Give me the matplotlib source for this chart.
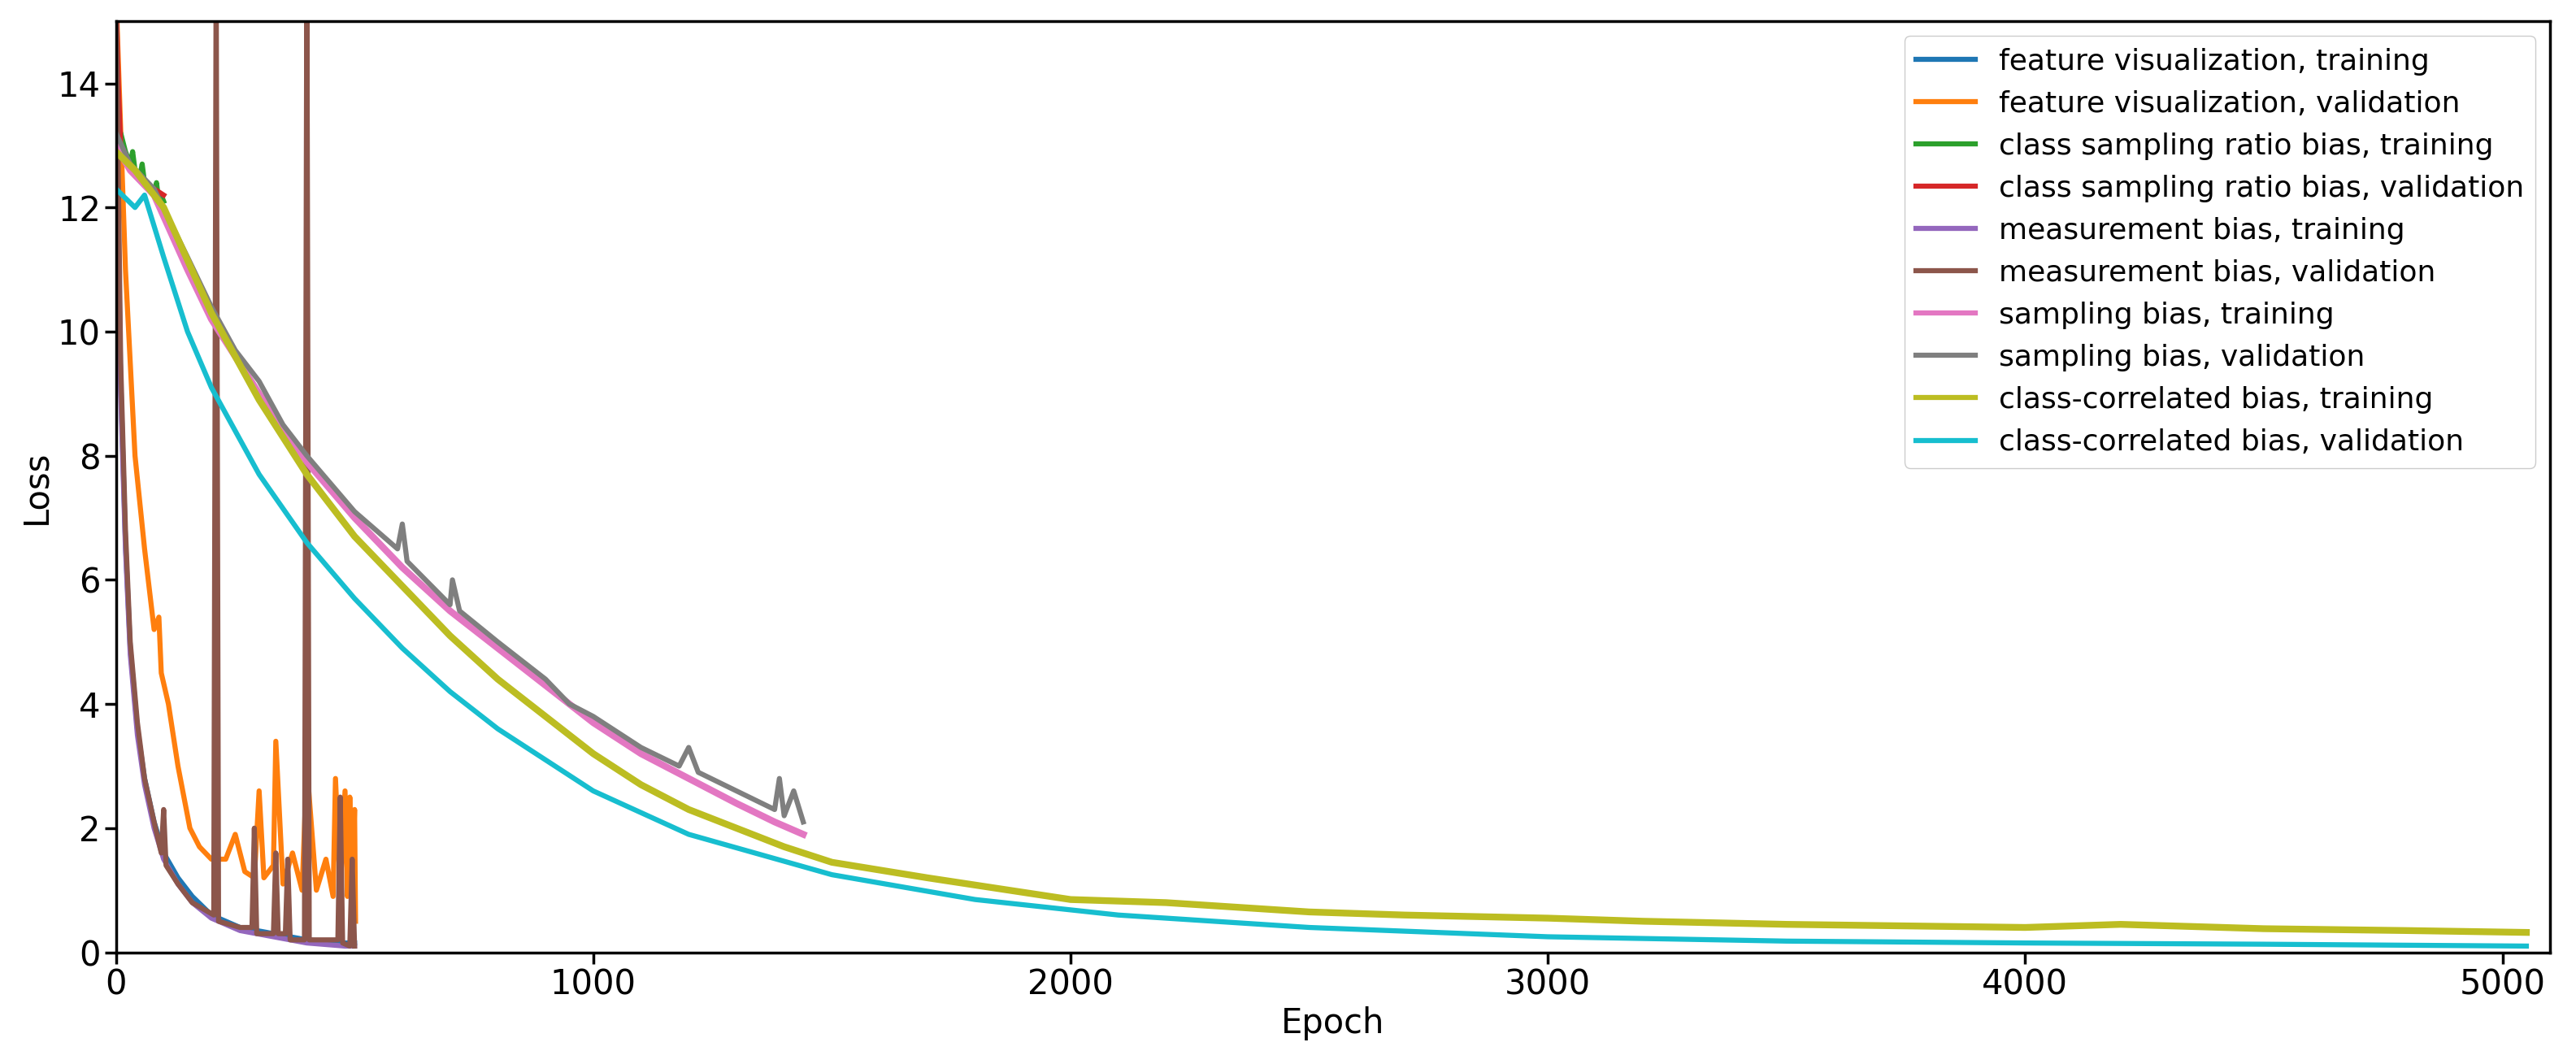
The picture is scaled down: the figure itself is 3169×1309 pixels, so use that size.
import matplotlib
matplotlib.use("Agg")
import matplotlib.pyplot as plt

# feature visualization
fv_tr_x = [0, 10, 20, 30, 45, 60, 80, 100, 130, 160, 200, 260, 330, 400, 480, 500]
fv_tr_y = [14.0, 9.2, 6.6, 4.9, 3.6, 2.8, 2.1, 1.6, 1.2, 0.9, 0.6, 0.4, 0.3, 0.2, 0.15, 0.15]
fv_va_x = [0, 20, 40, 60, 80, 90, 95, 110, 130, 155, 175, 200, 230, 250, 270, 290, 300, 310, 330, 335,
           350, 370, 390, 400, 420, 440, 455, 460, 470, 480, 485, 490, 495, 500, 502]
fv_va_y = [15.5, 11.0, 8.0, 6.5, 5.2, 5.4, 4.5, 4.0, 3.0, 2.0, 1.7, 1.5, 1.5, 1.9, 1.3, 1.2, 2.6, 1.2, 1.4, 3.4,
           1.1, 1.6, 1.0, 3.0, 1.0, 1.5, 0.9, 2.8, 1.0, 2.6, 0.9, 2.5, 1.0, 2.3, 0.5]
# class sampling ratio bias
cs_tr_x = [0, 5, 10, 20, 30, 35, 40, 50, 55, 60, 70, 80, 85, 90, 95, 100]
cs_tr_y = [13.3, 13.0, 13.2, 12.9, 12.7, 12.9, 12.6, 12.5, 12.7, 12.4, 12.3, 12.2, 12.4, 12.1, 12.2, 12.1]
cs_va_x = [0, 5, 10, 20, 40, 60, 80, 100]
cs_va_y = [15.5, 14.0, 13.0, 12.8, 12.6, 12.4, 12.3, 12.2]
# measurement bias
mb_tr_x = [0, 10, 20, 30, 45, 60, 80, 100, 130, 160, 200, 260, 330, 400, 480, 500]
mb_tr_y = [14.0, 9.0, 6.5, 4.8, 3.5, 2.7, 2.0, 1.5, 1.1, 0.8, 0.55, 0.35, 0.25, 0.15, 0.1, 0.1]
mb_va_x = [0, 10, 20, 30, 45, 60, 80, 95, 100, 105, 130, 160, 205, 210, 215, 260, 285, 290, 295, 330, 335, 340,
           355, 360, 365, 395, 400, 405, 440, 465, 470, 475, 490, 495, 500]
mb_va_y = [15.5, 9.5, 6.8, 5.0, 3.7, 2.8, 2.1, 1.6, 2.3, 1.4, 1.1, 0.8, 0.6, 16.0, 0.5, 0.4, 0.4, 2.0, 0.3, 0.3, 1.6, 0.3,
           0.3, 1.5, 0.2, 0.2, 16.0, 0.2, 0.2, 0.2, 2.5, 0.15, 0.1, 1.5, 0.1]
# sampling bias
sb_tr_x = [0, 30, 80, 150, 200, 300, 400, 500, 600, 700, 800, 900, 1000, 1100, 1200, 1300, 1380, 1440]
sb_tr_y = [13.0, 12.6, 12.2, 11.0, 10.2, 9.0, 7.9, 7.0, 6.2, 5.5, 4.9, 4.3, 3.7, 3.2, 2.8, 2.4, 2.1, 1.9]
sb_va_x = [0, 30, 80, 150, 200, 250, 300, 350, 400, 500, 590, 600, 610, 700, 705, 720, 800, 900, 950, 1000,
           1100, 1180, 1200, 1220, 1300, 1380, 1390, 1400, 1420, 1440]
sb_va_y = [13.2, 12.7, 12.3, 11.2, 10.4, 9.7, 9.2, 8.5, 8.0, 7.1, 6.5, 6.9, 6.3, 5.6, 6.0, 5.5, 5.0, 4.4, 4.0, 3.8,
           3.3, 3.0, 3.3, 2.9, 2.6, 2.3, 2.8, 2.2, 2.6, 2.1]
# class-correlated bias
cc_tr_x = [0, 40, 100, 200, 300, 400, 500, 600, 700, 800, 900, 1000, 1100, 1200, 1300, 1400, 1500, 1700, 2000,
           2200, 2500, 2700, 3000, 3200, 3500, 4000, 4200, 4500, 4800, 5050]
cc_tr_y = [12.9, 12.6, 12.0, 10.3, 8.9, 7.7, 6.7, 5.9, 5.1, 4.4, 3.8, 3.2, 2.7, 2.3, 2.0, 1.7, 1.45, 1.2, 0.85,
           0.8, 0.65, 0.6, 0.55, 0.5, 0.45, 0.4, 0.45, 0.38, 0.35, 0.32]
cc_va_x = [0, 40, 60, 100, 150, 200, 300, 400, 500, 600, 700, 800, 1000, 1200, 1500, 1800, 2100, 2500, 3000,
           3500, 4000, 4500, 5050]
cc_va_y = [12.3, 12.0, 12.2, 11.2, 10.0, 9.1, 7.7, 6.6, 5.7, 4.9, 4.2, 3.6, 2.6, 1.9, 1.25, 0.85, 0.6, 0.4, 0.25,
           0.18, 0.15, 0.13, 0.1]

series = [
    (fv_tr_x, fv_tr_y, "#1f77b4", "feature visualization, training"),
    (fv_va_x, fv_va_y, "#ff7f0e", "feature visualization, validation"),
    (cs_tr_x, cs_tr_y, "#2ca02c", "class sampling ratio bias, training"),
    (cs_va_x, cs_va_y, "#d62728", "class sampling ratio bias, validation"),
    (mb_tr_x, mb_tr_y, "#9467bd", "measurement bias, training"),
    (mb_va_x, mb_va_y, "#8c564b", "measurement bias, validation"),
    (sb_tr_x, sb_tr_y, "#e377c2", "sampling bias, training"),
    (sb_va_x, sb_va_y, "#7f7f7f", "sampling bias, validation"),
    (cc_tr_x, cc_tr_y, "#bcbd22", "class-correlated bias, training"),
    (cc_va_x, cc_va_y, "#17becf", "class-correlated bias, validation"),
]

fig = plt.figure(figsize=(31.69, 13.09), dpi=100)
ax = fig.add_axes([0.045, 0.105, 0.945, 0.875])
for x, y, c, lab in series:
    lw = 6 if lab.startswith(("sampling bias, training", "class-correlated bias, training")) else 4.5
    ax.plot(x, y, color=c, lw=lw, label=lab)
ax.set_xlim(0, 5100)
ax.set_ylim(0, 15)
ax.set_xlabel("Epoch", fontsize=30)
ax.set_ylabel("Loss", fontsize=30)
ax.tick_params(labelsize=30, width=2.5, length=10)
for s in ax.spines.values():
    s.set_linewidth(2.5)
leg = ax.legend(loc="upper right", fontsize=26, handlelength=2, framealpha=1)
for h in leg.get_lines():
    h.set_linewidth(4.5)
fig.savefig("out.png", dpi=100)
